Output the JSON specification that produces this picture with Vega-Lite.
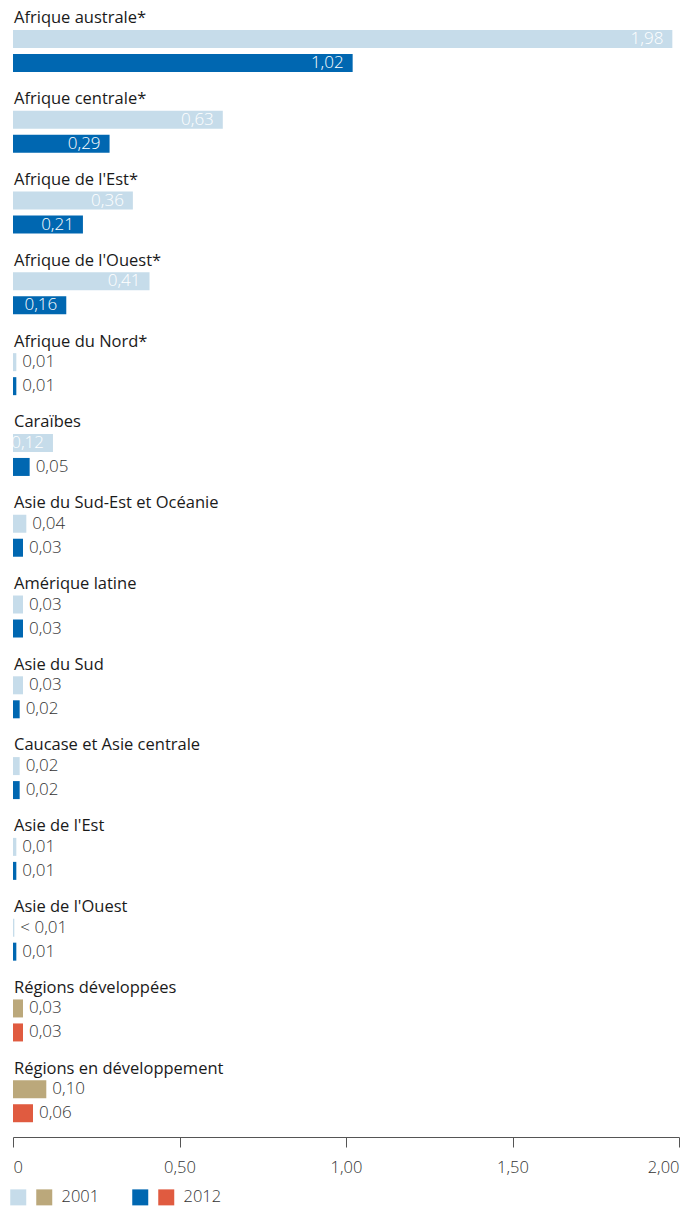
{
  "$schema": "https://vega.github.io/schema/vega-lite/v6.json",
  "autosize": {"type": "none"},
  "padding": {"left": 13, "top": 5, "right": 7, "bottom": 71},
  "width": 666,
  "height": 1131,
  "background": "white",
  "config": {
    "view": {"stroke": null},
    "font": "Open Sans",
    "text": {"font": "Open Sans", "fontSize": 15}
  },
  "data": {
    "values": [
      {"region": "Afrique australe*", "annee": "2001", "serie": "2001 A", "valeur": 1.98, "etiquette": "1,98"},
      {"region": "Afrique australe*", "annee": "2012", "serie": "2012 A", "valeur": 1.02, "etiquette": "1,02"},
      {"region": "Afrique centrale*", "annee": "2001", "serie": "2001 A", "valeur": 0.63, "etiquette": "0,63"},
      {"region": "Afrique centrale*", "annee": "2012", "serie": "2012 A", "valeur": 0.29, "etiquette": "0,29"},
      {"region": "Afrique de l'Est*", "annee": "2001", "serie": "2001 A", "valeur": 0.36, "etiquette": "0,36"},
      {"region": "Afrique de l'Est*", "annee": "2012", "serie": "2012 A", "valeur": 0.21, "etiquette": "0,21"},
      {"region": "Afrique de l'Ouest*", "annee": "2001", "serie": "2001 A", "valeur": 0.41, "etiquette": "0,41"},
      {"region": "Afrique de l'Ouest*", "annee": "2012", "serie": "2012 A", "valeur": 0.16, "etiquette": "0,16"},
      {"region": "Afrique du Nord*", "annee": "2001", "serie": "2001 A", "valeur": 0.01, "etiquette": "0,01"},
      {"region": "Afrique du Nord*", "annee": "2012", "serie": "2012 A", "valeur": 0.01, "etiquette": "0,01"},
      {"region": "Caraïbes", "annee": "2001", "serie": "2001 A", "valeur": 0.12, "etiquette": "0,12"},
      {"region": "Caraïbes", "annee": "2012", "serie": "2012 A", "valeur": 0.05, "etiquette": "0,05"},
      {"region": "Asie du Sud-Est et Océanie", "annee": "2001", "serie": "2001 A", "valeur": 0.04, "etiquette": "0,04"},
      {"region": "Asie du Sud-Est et Océanie", "annee": "2012", "serie": "2012 A", "valeur": 0.03, "etiquette": "0,03"},
      {"region": "Amérique latine", "annee": "2001", "serie": "2001 A", "valeur": 0.03, "etiquette": "0,03"},
      {"region": "Amérique latine", "annee": "2012", "serie": "2012 A", "valeur": 0.03, "etiquette": "0,03"},
      {"region": "Asie du Sud", "annee": "2001", "serie": "2001 A", "valeur": 0.03, "etiquette": "0,03"},
      {"region": "Asie du Sud", "annee": "2012", "serie": "2012 A", "valeur": 0.02, "etiquette": "0,02"},
      {"region": "Caucase et Asie centrale", "annee": "2001", "serie": "2001 A", "valeur": 0.02, "etiquette": "0,02"},
      {"region": "Caucase et Asie centrale", "annee": "2012", "serie": "2012 A", "valeur": 0.02, "etiquette": "0,02"},
      {"region": "Asie de l'Est", "annee": "2001", "serie": "2001 A", "valeur": 0.01, "etiquette": "0,01"},
      {"region": "Asie de l'Est", "annee": "2012", "serie": "2012 A", "valeur": 0.01, "etiquette": "0,01"},
      {"region": "Asie de l'Ouest", "annee": "2001", "serie": "2001 A", "valeur": 0.004, "etiquette": "< 0,01"},
      {"region": "Asie de l'Ouest", "annee": "2012", "serie": "2012 A", "valeur": 0.01, "etiquette": "0,01"},
      {"region": "Régions développées", "annee": "2001", "serie": "2001 B", "valeur": 0.03, "etiquette": "0,03"},
      {"region": "Régions développées", "annee": "2012", "serie": "2012 B", "valeur": 0.03, "etiquette": "0,03"},
      {"region": "Régions en développement", "annee": "2001", "serie": "2001 B", "valeur": 0.10, "etiquette": "0,10"},
      {"region": "Régions en développement", "annee": "2012", "serie": "2012 B", "valeur": 0.06, "etiquette": "0,06"}
    ]
  },
  "encoding": {
    "y": {"field": "region", "type": "nominal", "sort": null, "axis": null,
          "scale": {"paddingInner": 0, "paddingOuter": 0}},
    "x": {"field": "valeur", "type": "quantitative",
          "scale": {"domain": [0, 2], "nice": false},
          "axis": {
            "title": null, "grid": false, "values": [0, 0.5, 1, 1.5, 2],
            "labelExpr": "datum.value == 0 ? '0' : replace(format(datum.value, '.2f'), '.', ',')",
            "labelFlush": true, "labelFont": "Open Sans", "labelFontSize": 16.5, "labelFontWeight": 300, "labelColor": "#333",
            "labelPadding": 12, "tickSize": 10, "tickColor": "#555", "domainColor": "#555",
            "offset": 1
          }}
  },
  "layer": [
    {
      "mark": {"type": "bar"},
      "encoding": {
        "yOffset": {"field": "annee", "type": "nominal",
                    "scale": {"domain": ["2001", "2012"], "paddingInner": 0.25, "paddingOuter": 0.808, "align": 0.645}},
        "color": {"field": "serie", "type": "nominal",
                  "scale": {"domain": ["2001 A", "2001 B", "2012 A", "2012 B"],
                            "range": ["#c6dcea", "#bba87b", "#0067b1", "#e05b40"]},
                  "legend": {
                    "title": null, "orient": "none", "legendX": -3, "legendY": 1184,
                    "direction": "horizontal", "padding": 0,
                    "symbolType": "square", "symbolSize": 256, "symbolStrokeWidth": 0,
                    "labelFont": "Open Sans", "labelFontSize": 16.5, "labelFontWeight": 300, "labelColor": "#333",
                    "labelOffset": 9, "columnPadding": 0,
                    "labelExpr": "datum.label == '2001 B' ? '2001\u2800\u2002\u2800' : (datum.label == '2012 B' ? '2012' : '')"
                  }}
      }
    },
    {
      "transform": [{"filter": "datum.valeur > 0.11"}],
      "mark": {"type": "text", "align": "right", "baseline": "middle", "dx": -9, "color": "white", "fontSize": 17, "fontWeight": 300},
      "encoding": {
        "yOffset": {"field": "annee", "type": "nominal",
                    "scale": {"domain": ["2001", "2012"], "paddingInner": 0.25, "paddingOuter": 0.808, "align": 0.645}},
        "text": {"field": "etiquette"}
      }
    },
    {
      "transform": [{"filter": "datum.valeur <= 0.11"}],
      "mark": {"type": "text", "align": "left", "baseline": "middle", "dx": 6, "color": "#333", "fontSize": 17, "fontWeight": 300},
      "encoding": {
        "yOffset": {"field": "annee", "type": "nominal",
                    "scale": {"domain": ["2001", "2012"], "paddingInner": 0.25, "paddingOuter": 0.808, "align": 0.645}},
        "text": {"field": "etiquette"}
      }
    },
    {
      "transform": [{"filter": "datum.annee == '2001'"}],
      "mark": {"type": "text", "align": "left", "baseline": "alphabetic", "dx": 1, "dy": -22, "color": "#1a1a1a", "fontSize": 16.5},
      "encoding": {
        "x": {"datum": 0},
        "text": {"field": "region"}
      }
    }
  ]
}
